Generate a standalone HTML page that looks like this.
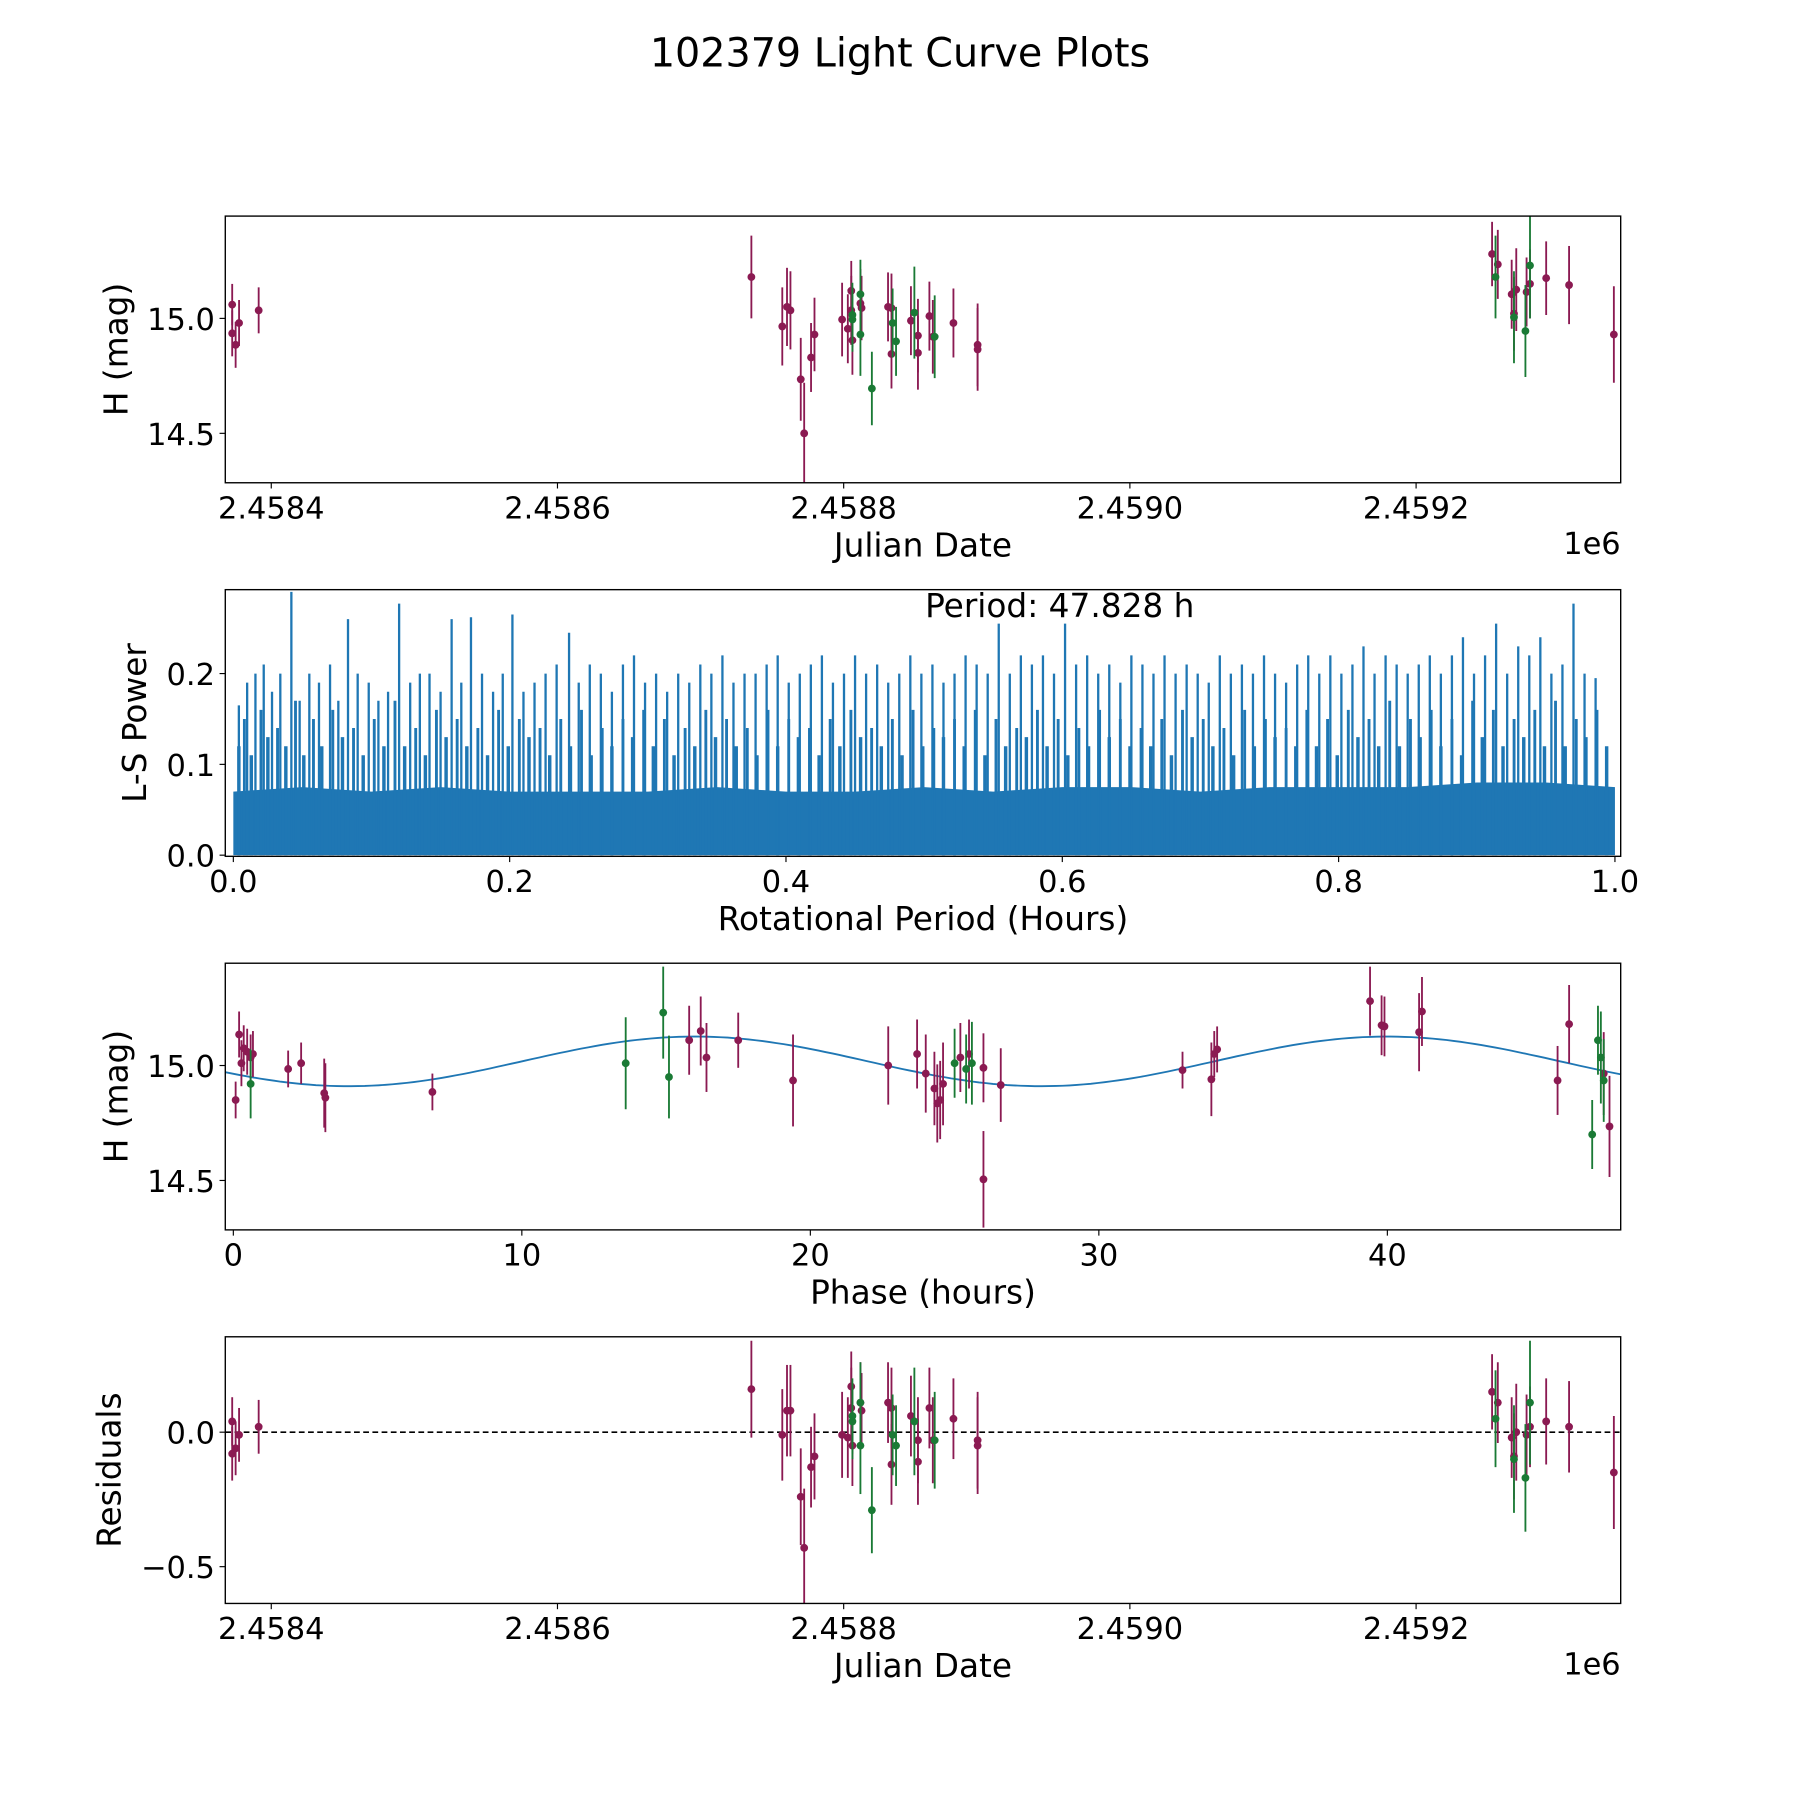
<!DOCTYPE html>
<html><head><meta charset="utf-8"><style>
html,body{margin:0;padding:0;background:#fff;}
svg{display:block;font-family:"DejaVu Sans","Liberation Sans",sans-serif;}
</style></head><body>
<svg id="fig" width="1800" height="1800" viewBox="0 0 1566 1566" xmlns="http://www.w3.org/2000/svg">
<rect width="1566" height="1566" fill="#fff"/>
<text x="783" y="58" font-size="34.5" text-anchor="middle">102379 Light Curve Plots</text>
</svg>
<script>
// ---- data: panel 1 & 4 (Julian Date offsets from 2458400) ----
const magJD = [-27.3,-27.3,-24.9,-22.5,-8.8,335.5,357.1,360.4,362.8,370.0,372.4,377.2,379.6,398.9,402.9,405.3,406.1,405.3,411.7,412.5,431.0,433.4,433.4,447.0,451.9,451.9,459.9,462.3,476.7,493.6,493.6,853.1,857.1,866.8,868.4,870.0,877.2,879.6,890.9,906.9,938.2];
const magH = [15.06,14.935,14.885,14.98,15.035,15.18,14.965,15.05,15.035,14.735,14.5,14.83,14.93,14.995,14.955,15.12,14.905,15.035,15.065,15.045,15.05,15.045,14.845,14.99,14.925,14.85,15.01,14.92,14.98,14.885,14.865,15.28,15.235,15.105,15.02,15.125,15.115,15.15,15.175,15.145,14.93];
const magErr = [0.09,0.1,0.1,0.1,0.1,0.18,0.17,0.17,0.17,0.18,0.22,0.15,0.16,0.16,0.15,0.13,0.15,0.15,0.15,0.14,0.15,0.15,0.15,0.15,0.16,0.16,0.15,0.16,0.15,0.18,0.18,0.14,0.15,0.15,0.16,0.18,0.15,0.15,0.16,0.17,0.21];
const magRes = [0.04,-0.08,-0.06,-0.01,0.02,0.16,-0.01,0.08,0.08,-0.24,-0.43,-0.13,-0.09,-0.01,-0.02,0.17,-0.05,0.09,0.11,0.08,0.11,0.09,-0.12,0.06,-0.03,-0.11,0.09,-0.03,0.05,-0.03,-0.05,0.15,0.11,-0.02,-0.09,0.0,-0.01,0.02,0.04,0.02,-0.15];
const grnJD = [406.1,406.1,411.7,411.7,419.7,434.2,436.6,449.4,463.6,855.5,868.4,876.4,879.6];
const grnH = [14.995,15.015,15.105,14.93,14.695,14.98,14.9,15.025,14.92,15.18,15.005,14.945,15.23];
const grnErr = [0.14,0.14,0.15,0.18,0.16,0.15,0.15,0.2,0.18,0.18,0.2,0.2,0.23];
const grnRes = [0.04,0.06,0.11,-0.05,-0.29,-0.01,-0.05,0.04,-0.03,0.05,-0.1,-0.17,0.11];
const jdTicks = [0,200,400,600,800];
const jdTickLabels = ["2.4584","2.4586","2.4588","2.4590","2.4592"];
// ---- periodogram ----
const spikeP = [0.004,0.01,0.016,0.022,0.028,0.034,0.042,0.048,0.055,0.062,0.07,0.076,0.083,0.09,0.098,0.105,0.112,0.12,0.128,0.135,0.142,0.15,0.158,0.165,0.172,0.18,0.188,0.195,0.202,0.21,0.218,0.226,0.234,0.243,0.25,0.258,0.266,0.274,0.282,0.29,0.298,0.306,0.314,0.322,0.33,0.338,0.346,0.354,0.362,0.37,0.378,0.386,0.394,0.402,0.41,0.418,0.426,0.434,0.442,0.45,0.458,0.466,0.474,0.482,0.49,0.498,0.506,0.514,0.522,0.53,0.538,0.546,0.554,0.562,0.57,0.578,0.586,0.594,0.602,0.61,0.618,0.626,0.634,0.642,0.65,0.658,0.666,0.674,0.682,0.69,0.698,0.706,0.714,0.722,0.73,0.738,0.746,0.754,0.762,0.77,0.778,0.786,0.794,0.802,0.81,0.818,0.826,0.834,0.842,0.85,0.858,0.866,0.874,0.882,0.89,0.898,0.906,0.914,0.922,0.93,0.938,0.946,0.954,0.962,0.97,0.978,0.986,0.995];
const spikePow = [0.165,0.19,0.2,0.21,0.18,0.2,0.29,0.17,0.2,0.19,0.21,0.17,0.26,0.2,0.19,0.17,0.18,0.277,0.19,0.2,0.2,0.18,0.26,0.19,0.262,0.2,0.18,0.2,0.265,0.18,0.19,0.2,0.21,0.245,0.19,0.21,0.2,0.18,0.21,0.22,0.19,0.2,0.18,0.2,0.19,0.21,0.2,0.22,0.19,0.2,0.2,0.21,0.22,0.19,0.2,0.21,0.22,0.19,0.2,0.22,0.2,0.21,0.19,0.2,0.22,0.2,0.21,0.19,0.2,0.22,0.21,0.2,0.255,0.2,0.22,0.21,0.22,0.2,0.255,0.21,0.22,0.2,0.21,0.19,0.22,0.21,0.2,0.22,0.2,0.21,0.2,0.19,0.22,0.2,0.21,0.2,0.22,0.2,0.19,0.21,0.22,0.2,0.22,0.2,0.21,0.23,0.2,0.22,0.21,0.2,0.21,0.22,0.2,0.22,0.24,0.2,0.22,0.255,0.2,0.23,0.22,0.24,0.2,0.21,0.277,0.2,0.195];
const floorP = [0.0,0.05,0.1,0.15,0.2,0.25,0.3,0.35,0.4,0.45,0.5,0.55,0.6,0.65,0.7,0.75,0.8,0.85,0.9,0.95,1.0];
const floorPow = [0.07,0.075,0.07,0.075,0.07,0.07,0.07,0.075,0.07,0.07,0.075,0.07,0.075,0.075,0.07,0.075,0.075,0.075,0.08,0.08,0.075];
const midP = [0.008,0.02,0.032,0.045,0.058,0.072,0.087,0.102,0.117,0.132,0.147,0.162,0.177,0.192,0.207,0.222,0.237,0.252,0.267,0.282,0.297,0.312,0.327,0.342,0.357,0.372,0.387,0.402,0.417,0.432,0.447,0.462,0.477,0.492,0.507,0.522,0.537,0.552,0.567,0.582,0.597,0.612,0.627,0.642,0.657,0.672,0.687,0.702,0.717,0.732,0.747,0.762,0.777,0.792,0.807,0.822,0.837,0.852,0.867,0.882,0.897,0.912,0.927,0.942,0.957,0.972,0.987];
const midPow = [0.15,0.16,0.14,0.17,0.15,0.16,0.14,0.15,0.17,0.14,0.16,0.15,0.14,0.16,0.15,0.14,0.15,0.16,0.14,0.15,0.16,0.15,0.14,0.16,0.15,0.14,0.16,0.15,0.14,0.15,0.16,0.14,0.15,0.16,0.14,0.15,0.16,0.15,0.14,0.16,0.15,0.14,0.16,0.15,0.14,0.15,0.16,0.15,0.14,0.16,0.15,0.14,0.16,0.15,0.16,0.15,0.17,0.15,0.16,0.15,0.17,0.16,0.15,0.16,0.17,0.15,0.16];
const lowP = [0.004,0.013,0.025,0.038,0.051,0.064,0.079,0.094,0.109,0.124,0.139,0.154,0.169,0.184,0.199,0.214,0.229,0.244,0.259,0.274,0.289,0.304,0.319,0.334,0.349,0.364,0.379,0.394,0.409,0.424,0.439,0.454,0.469,0.484,0.499,0.514,0.529,0.544,0.559,0.574,0.589,0.604,0.619,0.634,0.649,0.664,0.679,0.694,0.709,0.724,0.739,0.754,0.769,0.784,0.799,0.814,0.829,0.844,0.859,0.874,0.889,0.904,0.919,0.934,0.949,0.964,0.979,0.994];
const lowPow = [0.12,0.11,0.13,0.12,0.11,0.12,0.13,0.11,0.12,0.12,0.11,0.13,0.12,0.11,0.12,0.13,0.11,0.12,0.11,0.12,0.13,0.12,0.11,0.12,0.13,0.12,0.11,0.12,0.13,0.11,0.12,0.13,0.12,0.11,0.12,0.13,0.12,0.11,0.12,0.13,0.12,0.11,0.12,0.13,0.12,0.12,0.11,0.13,0.12,0.11,0.12,0.13,0.12,0.12,0.11,0.13,0.12,0.12,0.13,0.12,0.11,0.13,0.12,0.13,0.12,0.12,0.13,0.12];
// ---- phase panel ----
const phMag = [0.08,0.2,0.28,0.36,0.48,0.6,0.68,1.9,2.35,3.15,3.19,6.9,15.8,16.2,16.4,17.5,19.4,22.7,23.7,24.0,24.3,24.4,24.5,24.6,25.2,25.5,26.0,26.0,26.6,32.9,33.9,34.0,34.1,39.4,39.8,39.9,41.1,41.2,45.9,46.3,47.5,47.7];
const phMagH = [14.85,15.135,15.01,15.075,15.06,15.035,15.05,14.985,15.01,14.88,14.86,14.885,15.11,15.15,15.035,15.11,14.935,15.0,15.05,14.965,14.9,14.835,14.85,14.92,15.035,15.05,14.505,14.99,14.915,14.98,14.94,15.05,15.07,15.28,15.175,15.17,15.145,15.235,14.935,15.18,14.965,14.735];
const phMagErr = [0.08,0.1,0.1,0.1,0.1,0.1,0.1,0.08,0.09,0.15,0.15,0.08,0.15,0.15,0.15,0.12,0.2,0.17,0.15,0.17,0.16,0.17,0.17,0.18,0.15,0.15,0.21,0.15,0.16,0.08,0.16,0.1,0.1,0.15,0.13,0.13,0.17,0.15,0.15,0.17,0.18,0.22];
const phGrn = [0.6,13.6,14.9,15.1,25.0,25.4,25.6,47.1,47.3,47.4,47.5];
const phGrnH = [14.92,15.01,15.23,14.95,15.01,14.985,15.01,14.7,15.11,15.035,14.935];
const phGrnErr = [0.15,0.2,0.2,0.18,0.15,0.15,0.18,0.15,0.15,0.2,0.18];
const fitMean = 15.018, fitAmp = 0.108, fitPeriod = 24.0, fitShift = 10.0;

const NS='http://www.w3.org/2000/svg';
const fig=document.getElementById('fig');
function el(tag,attrs,parent){const e=document.createElementNS(NS,tag);for(const k in attrs)e.setAttribute(k,attrs[k]);(parent||fig).appendChild(e);return e;}
const MAG='#8b1a52', GRN='#1a7a35', BLUE='#1f77b4';
const L=196,R=1410,AH=232;
const tops=[188,513,838,1163];
const TF=26.5, LF=28.5;
function lin(d0,d1,p0,p1){return v=>p0+(v-d0)*(p1-p0)/(d1-d0);}

function frame(top,name){
  const r=el('rect',{x:L,y:top,width:R-L,height:AH,fill:'none',stroke:'#000','stroke-width':1.2});
  
  
}
function xtick(x,top,label,name){
  const t=el('line',{x1:x,x2:x,y1:top+AH,y2:top+AH+5,stroke:'#000','stroke-width':1});
  
  
  const tx=el('text',{x:x,y:top+AH+31,'font-size':TF,'text-anchor':'middle'});
  tx.textContent=label;
  
  
}
function ytick(y,label,name){
  const t=el('line',{x1:L-5,x2:L,y1:y,y2:y,stroke:'#000','stroke-width':1});
  
  
  const tx=el('text',{x:L-9,y:y+10,'font-size':TF,'text-anchor':'end'});
  tx.textContent=label;
  
  
}
function label(x,y,text,rot,name){
  const a={x:x,y:y,'font-size':LF,'text-anchor':'middle'};
  if(rot)a.transform='rotate(-90 '+x+' '+y+')';
  const t=el('text',a);t.textContent=text;
  
  
}
function errpts(xs,ys,es,sx,sy,color,name,top){
  for(let i=0;i<xs.length;i++){
    const x=sx(xs[i]);
    let y1=Math.max(top,Math.min(top+AH,sy(ys[i]+es[i]))), y2=Math.max(top,Math.min(top+AH,sy(ys[i]-es[i])));
    const l=el('line',{x1:x,x2:x,y1:y1,y2:y2,stroke:color,'stroke-width':1.6});
    
    
    const c=el('circle',{cx:x,cy:sy(ys[i]),r:3.4,fill:color});
    
    
  }
}

// Panel 1
(function(){
  const top=tops[0];
  const sx=lin(0,800,236,1232), sy=lin(15.0,14.5,top+89,top+189);
  errpts(magJD,magH,magErr,sx,sy,MAG,'h-mag',top);
  errpts(grnJD,grnH,grnErr,sx,sy,GRN,'h-mag-alt',top);
  frame(top,'lightcurve-axes');
  jdTicks.forEach((v,i)=>xtick(sx(v),top,jdTickLabels[i],'jd-x'));
  [15.0,14.5].forEach(v=>ytick(sy(v),v.toFixed(1),'h-y'));
  label(803,top+AH+64,'Julian Date',false,'x-axis-title-jd');
  const e=el('text',{x:R,y:top+AH+62,'font-size':TF,'text-anchor':'end'});e.textContent='1e6';
  
  
  label(111,top+AH/2,'H (mag)',true,'y-axis-title-h');
})();

// Panel 2
(function(){
  const top=tops[1];
  const sx=lin(0,1,203,1405), sy=lin(0,0.1,top+231,top+152);
  let pts=floorP.map((p,i)=>sx(p)+','+sy(floorPow[i]));
  const poly=el('polygon',{points:sx(0)+','+sy(0)+' '+pts.join(' ')+' '+sx(1)+','+sy(0),fill:BLUE});
  
  
  const nl=Math.min(lowP.length,lowPow.length);
  for(let i=0;i<nl;i++){const l=el('line',{x1:sx(lowP[i]),x2:sx(lowP[i]),y1:sy(0),y2:sy(lowPow[i]),stroke:BLUE,'stroke-width':3});
    
    }
  const nm=Math.min(midP.length,midPow.length);
  for(let i=0;i<nm;i++){const l=el('line',{x1:sx(midP[i]),x2:sx(midP[i]),y1:sy(0),y2:sy(midPow[i]),stroke:BLUE,'stroke-width':2.5});
    
    }
  const ns=Math.min(spikeP.length,spikePow.length);
  for(let i=0;i<ns;i++){const l=el('line',{x1:sx(spikeP[i]),x2:sx(spikeP[i]),y1:sy(0),y2:Math.max(top,sy(spikePow[i])),stroke:BLUE,'stroke-width':2});
    
    }
  frame(top,'periodogram-axes');
  [0,0.2,0.4,0.6,0.8,1.0].forEach(v=>xtick(sx(v),top,v.toFixed(1),'period-x'));
  [0,0.1,0.2].forEach(v=>ytick(sy(v),v.toFixed(1),'power-y'));
  label(803,top+AH+64,'Rotational Period (Hours)',false,'x-axis-title-period');
  label(127,top+AH/2,'L-S Power',true,'y-axis-title-power');
  const t=el('text',{x:922,y:top+24,'font-size':LF,'text-anchor':'middle'});t.textContent='Period: 47.828 h';
  
  
})();

// Panel 3
(function(){
  const top=tops[2];
  const sx=lin(0,10,203,454), sy=lin(15.0,14.5,top+89,top+189);
  let d='';
  for(let k=0;k<=200;k++){const t=-0.28+k*(48.1+0.28)/200;const v=fitMean+fitAmp*Math.sin(2*Math.PI*(t-fitShift)/fitPeriod);d+=(k?'L':'M')+sx(t).toFixed(1)+','+sy(v).toFixed(1);}
  const p=el('path',{d:d,fill:'none',stroke:BLUE,'stroke-width':1.6});
  
  
  errpts(phMag,phMagH,phMagErr,sx,sy,MAG,'phase',top);
  errpts(phGrn,phGrnH,phGrnErr,sx,sy,GRN,'phase-alt',top);
  frame(top,'phase-axes');
  [0,10,20,30,40].forEach(v=>xtick(sx(v),top,String(v),'phase-x'));
  [15.0,14.5].forEach(v=>ytick(sy(v),v.toFixed(1),'phase-h-y'));
  label(803,top+AH+64,'Phase (hours)',false,'x-axis-title-phase');
  label(111,top+AH/2,'H (mag)',true,'y-axis-title-phase-h');
})();

// Panel 4
(function(){
  const top=tops[3];
  const sx=lin(0,800,236,1232), sy=lin(0,-0.5,top+83,top+200);
  const z=el('line',{x1:L,x2:R,y1:sy(0),y2:sy(0),stroke:'#000','stroke-width':1.4,'stroke-dasharray':'5,3'});
  
  
  errpts(magJD,magRes,magErr,sx,sy,MAG,'residual',top);
  errpts(grnJD,grnRes,grnErr,sx,sy,GRN,'residual-alt',top);
  frame(top,'residual-axes');
  jdTicks.forEach((v,i)=>xtick(sx(v),top,jdTickLabels[i],'res-jd-x'));
  ytick(sy(0),'0.0','res-y');ytick(sy(-0.5),'\u22120.5','res-y');
  label(803,top+AH+64,'Julian Date',false,'x-axis-title-res-jd');
  const e=el('text',{x:R,y:top+AH+62,'font-size':TF,'text-anchor':'end'});e.textContent='1e6';
  
  
  label(105,top+AH/2,'Residuals',true,'y-axis-title-residuals');
})();
</script>
</body></html>
